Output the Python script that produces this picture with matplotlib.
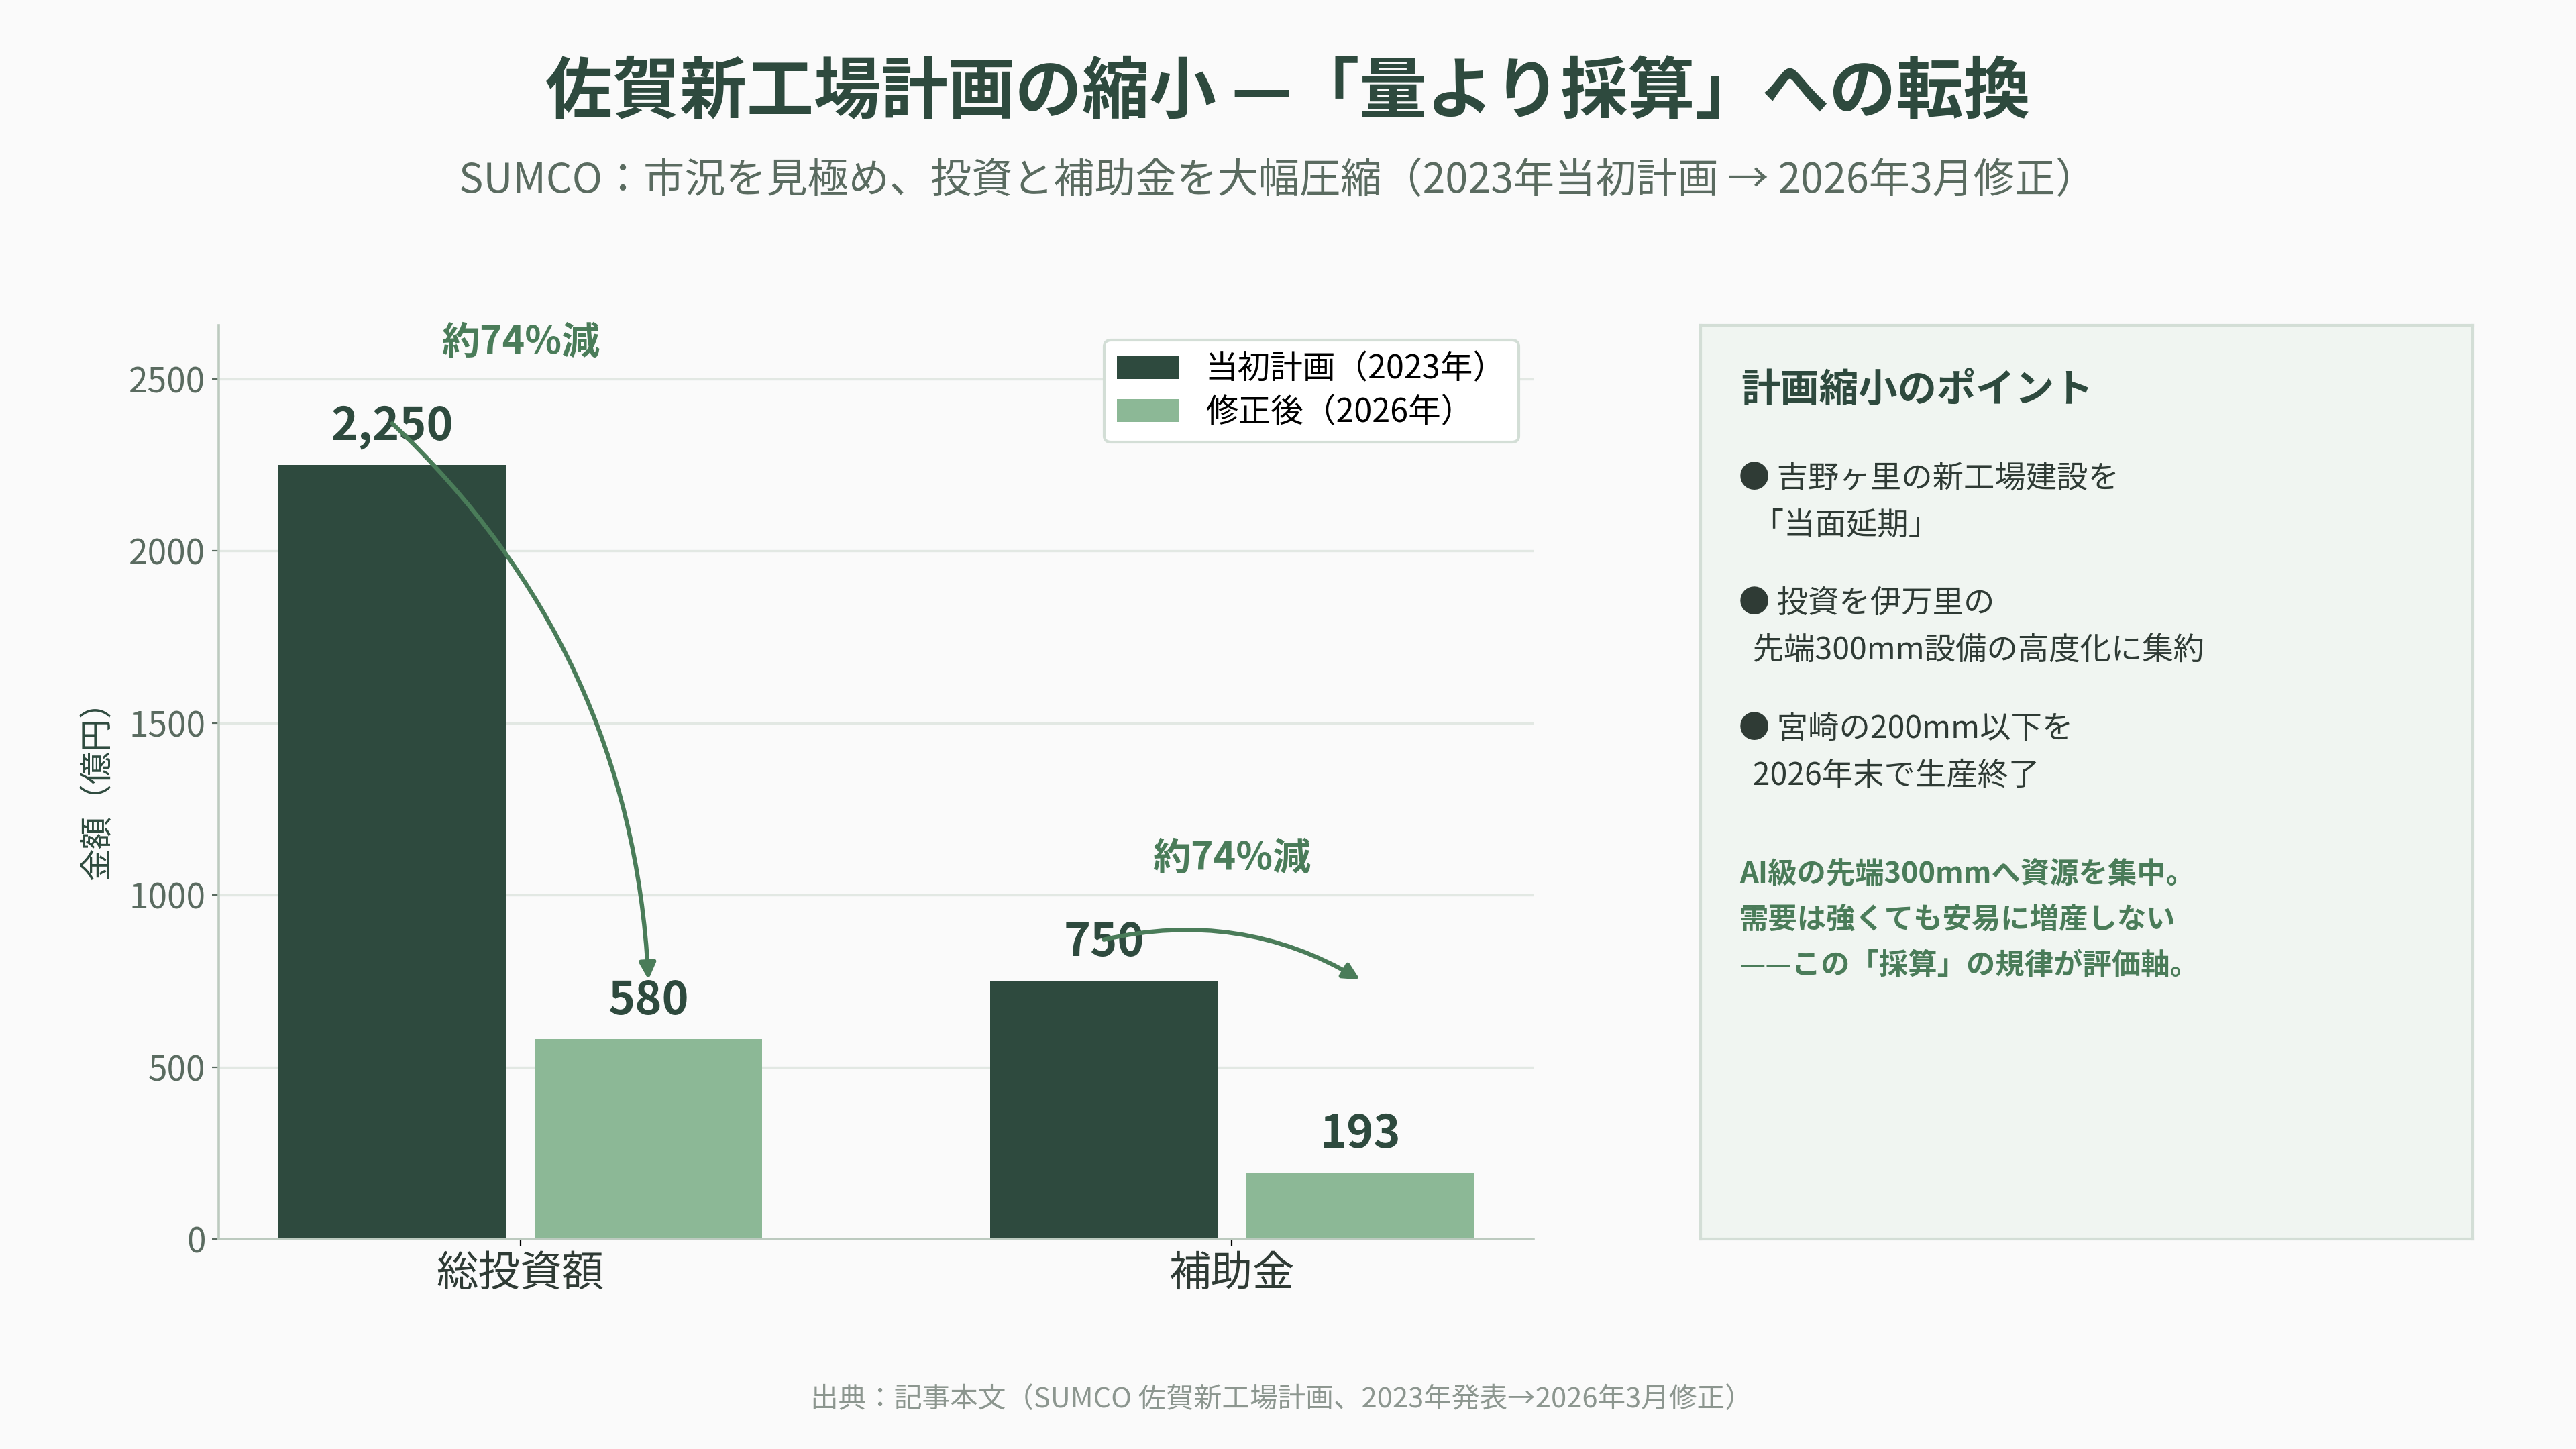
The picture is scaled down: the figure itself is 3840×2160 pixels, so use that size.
import numpy as np
import matplotlib
matplotlib.use('Agg')
import matplotlib.pyplot as plt

plt.rcParams['font.family'] = ['Noto Sans CJK JP', 'DejaVu Sans']

# data
categories = ['総投資額', '補助金']
plan_2023 = [2250, 750]
revised_2026 = [580, 193]
series_names = ['当初計画（2023年）', '修正後（2026年）']

points_title = '計画縮小のポイント'
points = [
    ('● 吉野ヶ里の新工場建設を', '  「当面延期」'),
    ('● 投資を伊万里の', '  先端300mm設備の高度化に集約'),
    ('● 宮崎の200mm以下を', '  2026年末で生産終了'),
]
note_lines = ['AI級の先端300mmへ資源を集中。',
              '需要は強くても安易に増産しない',
              '——この「採算」の規律が評価軸。']

title = '佐賀新工場計画の縮小 —「量より採算」への転換'
subtitle = 'SUMCO：市況を見極め、投資と補助金を大幅圧縮（2023年当初計画 → 2026年3月修正）'
source = '出典：記事本文（SUMCO 佐賀新工場計画、2023年発表→2026年3月修正）'

# colours
BG = '#fafafa'
DARK = '#2e4a3e'
LIGHT = '#8cb896'
ACCENT = '#4a7c59'
SUB = '#5a6b60'
TEXT = '#2f3b35'
GRID = '#e2e8e3'
SPINE = '#bccabf'
PANEL_FACE = '#f0f5f1'
PANEL_EDGE = '#d3ded6'

W, H = 3840, 2160


def px(x, y):
    return x / W, 1 - y / H


fig = plt.figure(figsize=(19.2, 10.8), dpi=200, facecolor=BG)

# ---- bar chart
ax = fig.add_axes([326 / W, 1 - 1847 / H, 1960 / W, 1362 / H])
ax.set_facecolor(BG)
x = np.arange(len(categories))
w = 0.32
off = 0.18
ax.bar(x - off, plan_2023, w, color=DARK, label=series_names[0], zorder=2)
ax.bar(x + off, revised_2026, w, color=LIGHT, label=series_names[1], zorder=2)
ax.set_ylim(0, max(plan_2023) * 1.18)
ax.set_xticks(x, categories)
ax.set_yticks(np.arange(0, 2501, 500))
ax.yaxis.grid(True, color=GRID, lw=1.2)
ax.set_axisbelow(True)
for s in ['top', 'right']:
    ax.spines[s].set_visible(False)
for s in ['left', 'bottom']:
    ax.spines[s].set_color(SPINE)
    ax.spines[s].set_linewidth(1.3)
ax.tick_params(axis='y', labelsize=18.5, colors=SUB)
ax.tick_params(axis='x', labelsize=22.5, labelcolor=TEXT)
ax.set_ylabel('金額（億円）', fontsize=17.5, color=DARK, labelpad=8)

# value labels
for xs, vals in [(x - off, plan_2023), (x + off, revised_2026)]:
    for xi, v in zip(xs, vals):
        ax.annotate(f'{v:,}', (xi, v), xytext=(0, 8), textcoords='offset points',
                    ha='center', va='bottom', fontsize=24.5, fontweight='bold',
                    color=DARK, zorder=3)

# reduction arrows + labels
tip_y = max(plan_2023) * 0.335
for i, (o, n) in enumerate(zip(plan_2023, revised_2026)):
    pct = round((1 - n / o) * 100)
    ax.text(i, o + 355, f'約{pct}%減', ha='center', va='center', fontsize=20.5,
            fontweight='bold', color=ACCENT)
    ax.annotate('', xy=(i + off, tip_y), xytext=(i - off, o + 120),
                arrowprops=dict(arrowstyle='-|>', color=ACCENT, lw=2.3,
                                mutation_scale=18, shrinkA=0, shrinkB=0,
                                connectionstyle='arc3,rad=-0.2'),
                zorder=4)

leg = ax.legend(loc='upper right', fontsize=17.5, frameon=True, fancybox=True,
                facecolor='white', edgecolor=PANEL_EDGE, framealpha=1,
                borderaxespad=0.45, labelspacing=0.3, handlelength=1.9)
leg.get_frame().set_linewidth(1.5)

# ---- side panel
pan = fig.add_axes([2535 / W, 1 - 1847 / H, 1151 / W, 1362 / H])
pan.set_facecolor(PANEL_FACE)
pan.set_xticks([])
pan.set_yticks([])
for s in pan.spines.values():
    s.set_color(PANEL_EDGE)
    s.set_linewidth(1.5)

fig.text(*px(2595, 582), points_title, ha='left', va='center', fontsize=21,
         fontweight='bold', color=DARK)
for k, (l1, l2) in enumerate(points):
    y0 = 713 + k * 187
    fig.text(*px(2592, y0), l1, ha='left', va='center', fontsize=16.7, color=TEXT)
    fig.text(*px(2592, y0 + 70), l2, ha='left', va='center', fontsize=16.7, color=TEXT)
for k, line in enumerate(note_lines):
    fig.text(*px(2593, 1303 + k * 68), line, ha='left', va='center', fontsize=15.6,
             fontweight='bold', color=ACCENT)

# ---- titles
fig.text(*px(1920, 139), title, ha='center', va='center', fontsize=36,
         fontweight='bold', color=DARK)
fig.text(*px(1905, 270), subtitle, ha='center', va='center', fontsize=22, color=SUB)
fig.text(*px(1910, 2087), source, ha='center', va='center', fontsize=15,
         color='#8c968f')

fig.savefig('out.png', dpi=200, facecolor=BG)
